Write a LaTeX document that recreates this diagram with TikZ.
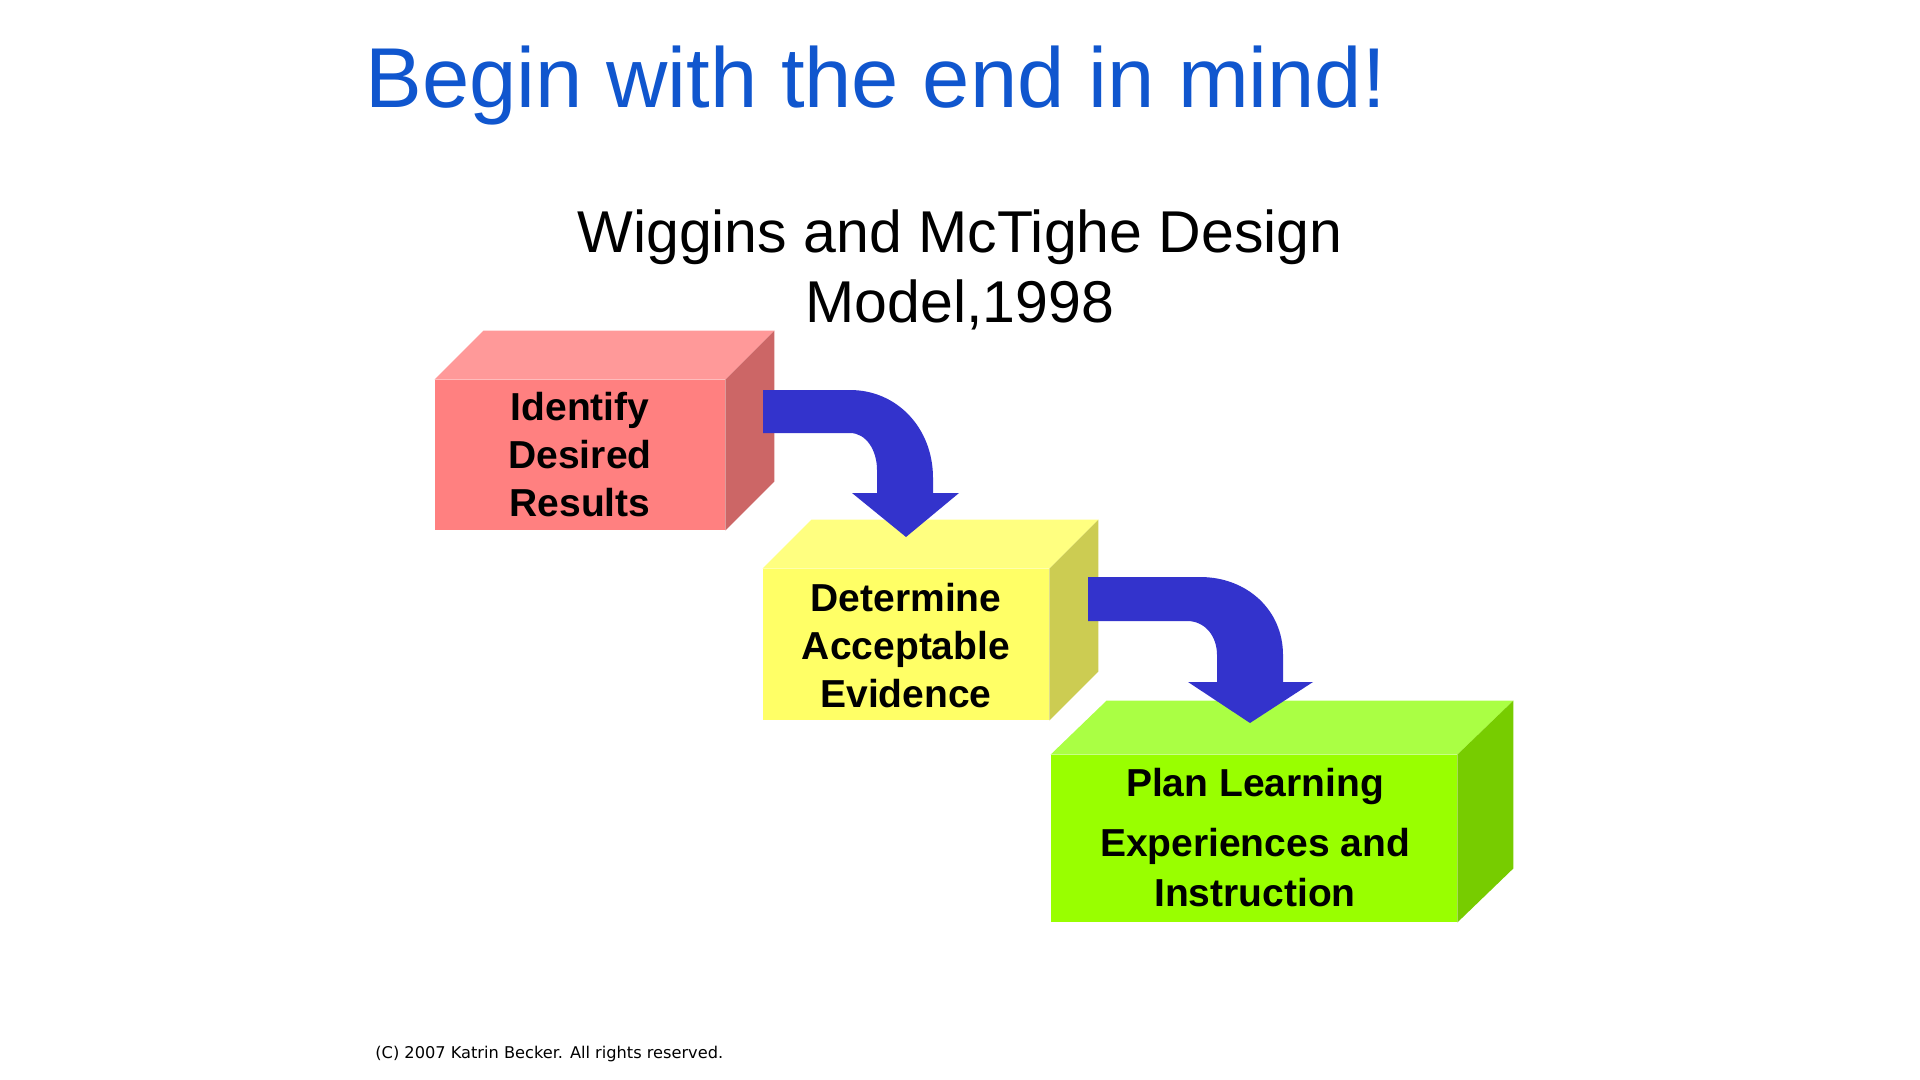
\documentclass[tikz,border=0pt]{standalone}
\usepackage{fontspec}
\setmainfont{Liberation Sans}
\newfontfamily\smallfont{DejaVu Sans}
\definecolor{titleblue}{RGB}{16,86,206}
\definecolor{arrowblue}{RGB}{51,51,204}
\definecolor{redfront}{RGB}{255,128,128}
\definecolor{redtop}{RGB}{255,153,153}
\definecolor{redside}{RGB}{204,102,102}
\definecolor{yelfront}{RGB}{255,255,102}
\definecolor{yeltop}{RGB}{255,255,128}
\definecolor{yelside}{RGB}{204,204,82}
\definecolor{grnfront}{RGB}{153,255,0}
\definecolor{grntop}{RGB}{170,255,68}
\definecolor{grnside}{RGB}{119,204,0}
\tikzset{
  boxtext/.style={inner sep=0pt, align=center, text=black,
    font=\fontsize{19.5}{24}\selectfont\bfseries},
  blockarrow/.style={fill=arrowblue, draw=none},
}
\begin{document}
\begin{tikzpicture}[x=0.5pt,y=-0.5pt]
\useasboundingbox (0,0) rectangle (1920,1080);
\fill[white] (0,0) rectangle (1920,1080);

% titles
\node[anchor=base west, inner sep=0pt, text=titleblue,
  font=\fontsize{42.5}{50}\selectfont] (title) at (365,108) {Begin with the end in mind!};
\node[anchor=base, inner sep=0pt, font=\fontsize{29.5}{35}\selectfont] (sub1) at (960,253) {Wiggins and McTighe Design};
\node[anchor=base, inner sep=0pt, font=\fontsize{29.5}{35}\selectfont] (sub2) at (960,323) {Model,1998};

% box 1
\node[fill=redfront, inner sep=0pt, minimum width=145pt, minimum height=75pt] (b1) at (580,455) {};
\fill[redtop] (b1.north west) -- ++(49,-49) -- ([shift={(49,-49)}]b1.north east) -- (b1.north east) -- cycle;
\fill[redside] (b1.north east) -- ++(49,-49) -- ([shift={(49,-49)}]b1.south east) -- (b1.south east) -- cycle;
\node[boxtext] (t1) at (580,455) {Identify\\Desired\\Results};

% box 2
\node[fill=yelfront, inner sep=0pt, minimum width=143pt, minimum height=75.5pt] (b2) at (906,644.5) {};
\fill[yeltop] (b2.north west) -- ++(49,-49) -- ([shift={(49,-49)}]b2.north east) -- (b2.north east) -- cycle;
\fill[yelside] (b2.north east) -- ++(49,-49) -- ([shift={(49,-49)}]b2.south east) -- (b2.south east) -- cycle;
\node[boxtext] (t2) at (906,646) {Determine\\Acceptable\\Evidence};

% box 3
\node[fill=grnfront, inner sep=0pt, minimum width=203pt, minimum height=83.5pt] (b3) at (1254,838.5) {};
\fill[grntop] (b3.north west) -- ++(56,-54) -- ([shift={(56,-54)}]b3.north east) -- (b3.north east) -- cycle;
\fill[grnside] (b3.north east) -- ++(56,-54) -- ([shift={(56,-54)}]b3.south east) -- (b3.south east) -- cycle;
\node[boxtext, font=\fontsize{19.5}{25}\selectfont\bfseries] (t3) at (1255,838) {Plan Learning\\[5pt]Experiences and\\Instruction};

% arrow 1 : box 1 -> box 2
\coordinate (a1s) at (763,390);
\coordinate (a1t) at (906,537);
\fill[blockarrow] (a1s) -- (850,390) .. controls (897,390) and (933,428) .. (933,478)
  -- (933,493) -- (959,493) -- (a1t) -- (852,493) -- (877,493) -- (877,470)
  .. controls (877,450) and (866,433) .. (850,433) -- (763,433) -- cycle;

% arrow 2 : box 2 -> box 3
\coordinate (a2s) at (1088,577);
\coordinate (a2t) at (1250,723);
\fill[blockarrow] (a2s) -- (1200,577) .. controls (1247,577) and (1283,610) .. (1283,655)
  -- (1283,682) -- (1313,682) -- (a2t) -- (1188,682) -- (1217,682) -- (1217,655)
  .. controls (1217,636) and (1205,621) .. (1187,621) -- (1088,621) -- cycle;

% copyright
\node[anchor=base west, inner sep=0pt, font=\smallfont\fontsize{8.1}{10}\selectfont] (copy) at (375,1058) {(C) 2007 Katrin Becker. All rights reserved.};
\end{tikzpicture}
\end{document}
